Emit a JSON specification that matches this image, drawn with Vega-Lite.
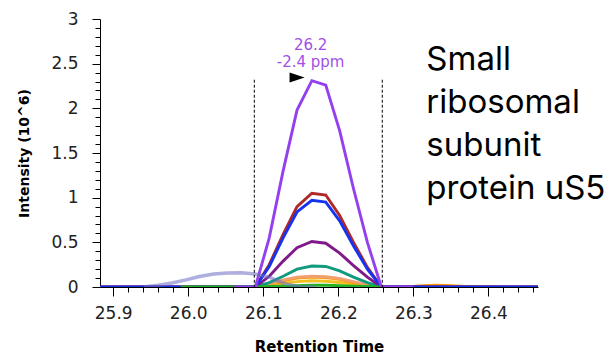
{
  "$schema": "https://vega.github.io/schema/vega-lite/v6.json",
  "width": 438,
  "height": 268,
  "autosize": {"type": "none"},
  "padding": {"left": 100, "top": 19, "right": 75, "bottom": 74},
  "background": "white",
  "config": {
    "view": {"stroke": null},
    "axis": {"grid": false, "domainColor": "#000000", "tickColor": "#000000", "labelColor": "#222222", "titleColor": "#000000", "labelFont": "DejaVu Sans", "titleFont": "DejaVu Sans"}
  },
  "datasets": {
    "chrom": [
      {"s": "gold", "t": 26.05, "v": 0}, {"s": "gold", "t": 26.0894, "v": 0}, {"s": "gold", "t": 26.1079, "v": 0.02}, {"s": "gold", "t": 26.1264, "v": 0.04}, {"s": "gold", "t": 26.1449, "v": 0.06}, {"s": "gold", "t": 26.1647, "v": 0.07}, {"s": "gold", "t": 26.1832, "v": 0.065}, {"s": "gold", "t": 26.2017, "v": 0.05}, {"s": "gold", "t": 26.2202, "v": 0.03}, {"s": "gold", "t": 26.2387, "v": 0.01}, {"s": "gold", "t": 26.2572, "v": 0}, {"s": "gold", "t": 26.3, "v": 0},
      {"s": "orange", "t": 26.0, "v": 0}, {"s": "orange", "t": 26.0894, "v": 0}, {"s": "orange", "t": 26.1079, "v": 0.03}, {"s": "orange", "t": 26.1264, "v": 0.07}, {"s": "orange", "t": 26.1449, "v": 0.1}, {"s": "orange", "t": 26.1647, "v": 0.11}, {"s": "orange", "t": 26.1832, "v": 0.105}, {"s": "orange", "t": 26.2017, "v": 0.085}, {"s": "orange", "t": 26.2202, "v": 0.05}, {"s": "orange", "t": 26.2387, "v": 0.02}, {"s": "orange", "t": 26.2572, "v": 0}, {"s": "orange", "t": 26.2942, "v": 0.004}, {"s": "orange", "t": 26.3127, "v": 0.014}, {"s": "orange", "t": 26.3312, "v": 0.02}, {"s": "orange", "t": 26.3497, "v": 0.015}, {"s": "orange", "t": 26.368, "v": 0.005}, {"s": "orange", "t": 26.387, "v": 0}, {"s": "orange", "t": 26.41, "v": 0},
      {"s": "salmon", "t": 26.07, "v": 0}, {"s": "salmon", "t": 26.0894, "v": 0}, {"s": "salmon", "t": 26.1079, "v": 0.035}, {"s": "salmon", "t": 26.1264, "v": 0.08}, {"s": "salmon", "t": 26.1449, "v": 0.11}, {"s": "salmon", "t": 26.1647, "v": 0.12}, {"s": "salmon", "t": 26.1832, "v": 0.115}, {"s": "salmon", "t": 26.2017, "v": 0.095}, {"s": "salmon", "t": 26.2202, "v": 0.06}, {"s": "salmon", "t": 26.2387, "v": 0.025}, {"s": "salmon", "t": 26.2572, "v": 0}, {"s": "salmon", "t": 26.28, "v": 0},
      {"s": "teal", "t": 26.05, "v": 0}, {"s": "teal", "t": 26.0894, "v": 0}, {"s": "teal", "t": 26.1079, "v": 0.05}, {"s": "teal", "t": 26.1264, "v": 0.12}, {"s": "teal", "t": 26.1449, "v": 0.2}, {"s": "teal", "t": 26.1647, "v": 0.235}, {"s": "teal", "t": 26.1832, "v": 0.23}, {"s": "teal", "t": 26.2017, "v": 0.18}, {"s": "teal", "t": 26.2202, "v": 0.11}, {"s": "teal", "t": 26.2387, "v": 0.05}, {"s": "teal", "t": 26.2572, "v": 0}, {"s": "teal", "t": 26.32, "v": 0},
      {"s": "darkpurple", "t": 25.8824, "v": 0}, {"s": "darkpurple", "t": 26.0894, "v": 0}, {"s": "darkpurple", "t": 26.1079, "v": 0.12}, {"s": "darkpurple", "t": 26.1264, "v": 0.29}, {"s": "darkpurple", "t": 26.1449, "v": 0.44}, {"s": "darkpurple", "t": 26.1647, "v": 0.51}, {"s": "darkpurple", "t": 26.1832, "v": 0.49}, {"s": "darkpurple", "t": 26.2017, "v": 0.38}, {"s": "darkpurple", "t": 26.2202, "v": 0.24}, {"s": "darkpurple", "t": 26.2387, "v": 0.11}, {"s": "darkpurple", "t": 26.2572, "v": 0}, {"s": "darkpurple", "t": 26.466, "v": 0},
      {"s": "brown", "t": 25.8824, "v": 0}, {"s": "brown", "t": 26.0894, "v": 0}, {"s": "brown", "t": 26.1079, "v": 0.25}, {"s": "brown", "t": 26.1264, "v": 0.59}, {"s": "brown", "t": 26.1449, "v": 0.9}, {"s": "brown", "t": 26.1647, "v": 1.05}, {"s": "brown", "t": 26.1832, "v": 1.03}, {"s": "brown", "t": 26.2017, "v": 0.8}, {"s": "brown", "t": 26.2202, "v": 0.5}, {"s": "brown", "t": 26.2387, "v": 0.22}, {"s": "brown", "t": 26.2572, "v": 0}, {"s": "brown", "t": 26.466, "v": 0},
      {"s": "blue", "t": 25.8824, "v": 0}, {"s": "blue", "t": 26.0894, "v": 0}, {"s": "blue", "t": 26.1079, "v": 0.23}, {"s": "blue", "t": 26.1264, "v": 0.55}, {"s": "blue", "t": 26.1449, "v": 0.84}, {"s": "blue", "t": 26.1647, "v": 0.97}, {"s": "blue", "t": 26.1832, "v": 0.95}, {"s": "blue", "t": 26.2017, "v": 0.74}, {"s": "blue", "t": 26.2202, "v": 0.46}, {"s": "blue", "t": 26.2387, "v": 0.2}, {"s": "blue", "t": 26.2572, "v": 0}, {"s": "blue", "t": 26.466, "v": 0},
      {"s": "green", "t": 25.99, "v": 0}, {"s": "green", "t": 26.0894, "v": 0}, {"s": "green", "t": 26.1079, "v": 0.005}, {"s": "green", "t": 26.1264, "v": 0.01}, {"s": "green", "t": 26.1449, "v": 0.015}, {"s": "green", "t": 26.1647, "v": 0.02}, {"s": "green", "t": 26.1832, "v": 0.02}, {"s": "green", "t": 26.2017, "v": 0.015}, {"s": "green", "t": 26.2202, "v": 0.01}, {"s": "green", "t": 26.2387, "v": 0.005}, {"s": "green", "t": 26.2572, "v": 0},
      {"s": "purple", "t": 26.06, "v": 0}, {"s": "purple", "t": 26.0894, "v": 0}, {"s": "purple", "t": 26.1079, "v": 0.55}, {"s": "purple", "t": 26.1264, "v": 1.3}, {"s": "purple", "t": 26.1449, "v": 1.98}, {"s": "purple", "t": 26.1647, "v": 2.31}, {"s": "purple", "t": 26.1832, "v": 2.26}, {"s": "purple", "t": 26.2017, "v": 1.75}, {"s": "purple", "t": 26.2202, "v": 1.1}, {"s": "purple", "t": 26.2387, "v": 0.5}, {"s": "purple", "t": 26.2572, "v": 0}, {"s": "purple", "t": 26.3, "v": 0}
    ],
    "ghost": [
      {"t": 25.941, "v": 0}, {"t": 25.96, "v": 0.02}, {"t": 25.978, "v": 0.045}, {"t": 25.997, "v": 0.08}, {"t": 26.015, "v": 0.118}, {"t": 26.034, "v": 0.145}, {"t": 26.052, "v": 0.158}, {"t": 26.071, "v": 0.16}, {"t": 26.089, "v": 0.145}, {"t": 26.108, "v": 0.11}, {"t": 26.126, "v": 0.045}, {"t": 26.145, "v": 0.005}, {"t": 26.17, "v": 0}
    ]
  },
  "layer": [
    {
      "data": {"name": "chrom"},
      "mark": {"type": "line", "strokeWidth": 2.9, "clip": true},
      "encoding": {
        "x": {"field": "t", "type": "quantitative", "scale": {"domain": [25.8824, 26.466], "nice": false, "zero": false},
          "axis": {"orient": "bottom", "tickCount": 100,
            "values": [25.9, 25.92, 25.94, 25.96, 25.98, 26.0, 26.02, 26.04, 26.06, 26.08, 26.1, 26.12, 26.14, 26.16, 26.18, 26.2, 26.22, 26.24, 26.26, 26.28, 26.3, 26.32, 26.34, 26.36, 26.38, 26.4, 26.42, 26.44, 26.46],
            "labelExpr": "abs(datum.value * 10 - round(datum.value * 10)) < 0.001 ? format(datum.value, '.1f') : ''",
            "tickSize": {"condition": {"test": "abs(datum.value * 10 - round(datum.value * 10)) < 0.001", "value": 9}, "value": 5},
            "labelOverlap": false, "labelFontSize": 17, "labelPadding": 9, "title": "Retention Time", "titleFontSize": 15, "titleFontWeight": "bold", "titlePadding": 18}},
        "y": {"field": "v", "type": "quantitative", "scale": {"domain": [0, 3], "nice": false},
          "axis": {"orient": "left", "tickCount": 100,
            "values": [0, 0.1, 0.2, 0.3, 0.4, 0.5, 0.6, 0.7, 0.8, 0.9, 1, 1.1, 1.2, 1.3, 1.4, 1.5, 1.6, 1.7, 1.8, 1.9, 2, 2.1, 2.2, 2.3, 2.4, 2.5, 2.6, 2.7, 2.8, 2.9, 3],
            "labelExpr": "abs(datum.value * 2 - round(datum.value * 2)) < 0.001 ? '' + round(datum.value * 10) / 10 : ''",
            "tickSize": {"condition": {"test": "abs(datum.value * 2 - round(datum.value * 2)) < 0.001", "value": 8}, "value": 5},
            "labelOverlap": false, "labelFontSize": 17, "labelPadding": 14, "title": "Intensity (10^6)", "titleFontSize": 14, "titleFontWeight": "bold", "titlePadding": 19}},
        "color": {"field": "s", "type": "nominal", "legend": null,
          "scale": {"domain": ["gold", "orange", "salmon", "teal", "darkpurple", "brown", "blue", "green", "purple"],
                    "range": ["#f0c020", "#ff9900", "#f0a070", "#129a7e", "#801a8a", "#b02828", "#1634f0", "#22b022", "#9440ee"]}}
      }
    },
    {
      "data": {"name": "ghost"},
      "mark": {"type": "line", "color": "#6c6cc4", "opacity": 0.55, "strokeWidth": 3.5, "clip": true},
      "encoding": {
        "x": {"field": "t", "type": "quantitative"},
        "y": {"field": "v", "type": "quantitative"}
      }
    },
    {
      "data": {"values": [{"t": 26.088}, {"t": 26.2585}]},
      "mark": {"type": "rule", "color": "#000000", "strokeWidth": 1, "strokeDash": [3, 2]},
      "encoding": {
        "x": {"field": "t", "type": "quantitative"},
        "y": {"datum": 2.32},
        "y2": {"datum": 0}
      }
    },
    {
      "data": {"values": [{}]},
      "mark": {"type": "point", "shape": "M-1,-0.667L1,0L-1,0.667Z", "size": 225, "filled": true, "color": "#000000", "opacity": 1},
      "encoding": {
        "x": {"datum": 26.145},
        "y": {"datum": 2.346}
      }
    },
    {
      "data": {"values": [{}]},
      "mark": {"type": "text", "lineBreak": "\n", "align": "center", "baseline": "alphabetic", "font": "DejaVu Sans", "fontSize": 15, "lineHeight": 17, "color": "#a050e6"},
      "encoding": {
        "x": {"datum": 26.163},
        "y": {"datum": 2.65},
        "text": {"value": "26.2\n-2.4 ppm"}
      }
    },
    {
      "data": {"values": [{}]},
      "mark": {"type": "text", "lineBreak": "\n", "align": "left", "baseline": "alphabetic", "font": "Inter", "fontSize": 33, "lineHeight": 43, "color": "#000000"},
      "encoding": {
        "x": {"datum": 26.3172},
        "y": {"datum": 2.425},
        "text": {"value": "Small\nribosomal\nsubunit\nprotein uS5"}
      }
    }
  ]
}
